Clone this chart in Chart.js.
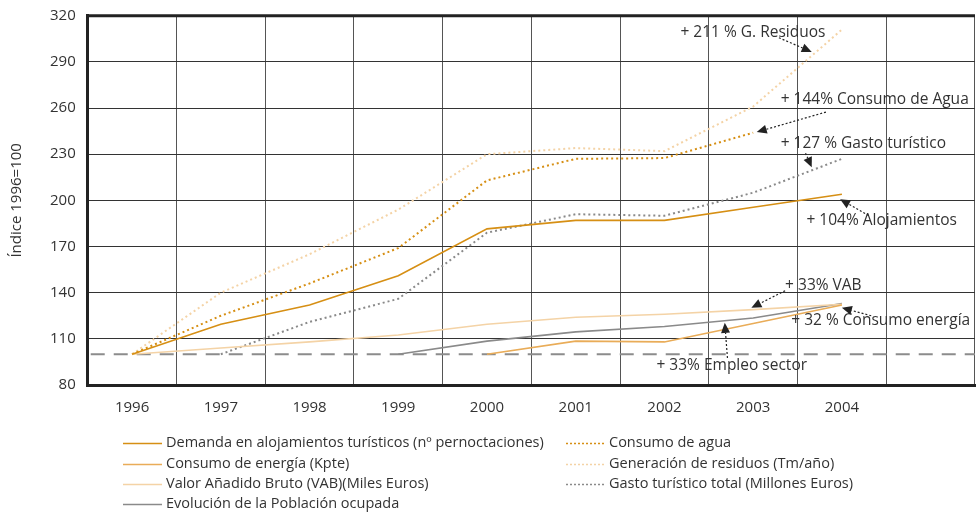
<!DOCTYPE html>
<html><head><meta charset="utf-8">
<script src="https://cdn.jsdelivr.net/npm/chart.js@4.4.1/dist/chart.umd.min.js"></script>
<style>html,body{margin:0;padding:0;background:#fff}#wrap{width:976px;height:513px}</style>
</head><body><div id="wrap"><canvas id="c" width="976" height="513"></canvas></div>
<script>
const years = ['1996','1997','1998','1999','2000','2001','2002','2003','2004',''];
const demandaAlojamientos = [100,119.5,132,151,181.5,187,187,195.5,204,null];
const consumoEnergia = [null,null,null,null,100,108.5,108,120,132,null];
const valorAnadidoBruto = [100,104,108,112.5,119.5,124,126,129,132.5,null];
const poblacionOcupada = [null,null,null,100,108.5,114.5,118,123.5,133,null];
const consumoAgua = [100,125,146,169,213,227,227.5,244,null,null];
const residuos = [100,140,165,194,230,234,232,261,311,null];
const gastoTuristico = [null,100,121,136,179,191,190,205,227,null];
const yTicks = [80,110,140,170,200,230,260,290,320];
const baseIndex = 100;
const annotationTexts = ['+ 211 % G. Residuos','+ 144% Consumo de Agua','+ 127 % Gasto turístico','+ 104% Alojamientos','+ 33% VAB','+ 32 % Consumo energía','+ 33% Empleo sector'];
// anchors in data coords: [textX, textY, fromX, fromY, tipX, tipY]
const annotationAnchors = [
  [6.18,309.0, 7.29,305.7, 7.66,296.5],
  [7.31,265.2, 7.82,257.4, 7.04,244.4],
  [7.31,237.2, 7.59,230.7, 7.66,221.5],
  [7.60,187.0, 8.30,190.2, 7.98,200.7],
  [7.36,144.6, 7.36,141.3, 6.98,130.2],
  [7.43,121.7, 8.33,125.0, 8.00,130.2],
  [5.91,92.4, 6.71,97.6, 6.68,120.4]
];

const FONT = '"Open Sans", "Noto Sans", sans-serif';
const DARK = '#D68F14', MID = '#E9AC58', LIGHT = '#F4D3A6', GREY = '#8A8A8A';

const datasets = [
  {label:'Demanda en alojamientos turísticos (nº pernoctaciones)', data:demandaAlojamientos, borderColor:DARK, borderWidth:1.6, col:0, row:0},
  {label:'Consumo de energía (Kpte)', data:consumoEnergia, borderColor:MID, borderWidth:1.6, col:0, row:1},
  {label:'Valor Añadido Bruto (VAB)(Miles Euros)', data:valorAnadidoBruto, borderColor:LIGHT, borderWidth:1.6, col:0, row:2},
  {label:'Evolución de la Población ocupada', data:poblacionOcupada, borderColor:GREY, borderWidth:1.6, col:0, row:3},
  {label:'Consumo de agua', data:consumoAgua, borderColor:DARK, borderWidth:2, borderDash:[2,3], col:1, row:0},
  {label:'Generación de residuos (Tm/año)', data:residuos, borderColor:LIGHT, borderWidth:2, borderDash:[2,3], col:1, row:1},
  {label:'Gasto turístico total (Millones Euros)', data:gastoTuristico, borderColor:GREY, borderWidth:2, borderDash:[2,3], col:1, row:2}
].map(d => Object.assign({pointRadius:0, tension:0, fill:false, spanGaps:false}, d));

const extras = {
  id:'extras',
  beforeDatasetsDraw(chart){
    const {ctx, chartArea:a, scales:{y}} = chart;
    const yy = y.getPixelForValue(baseIndex);
    ctx.save();
    ctx.strokeStyle = '#8C8C8C'; ctx.lineWidth = 2; ctx.setLineDash([14,9]);
    ctx.beginPath(); ctx.moveTo(a.left+3, yy); ctx.lineTo(a.right, yy); ctx.stroke();
    ctx.restore();
  },
  afterDraw(chart){
    const {ctx, chartArea:a, scales:{x,y}} = chart;
    ctx.save();
    ctx.strokeStyle = '#222'; ctx.lineWidth = 3;
    ctx.beginPath(); ctx.moveTo(a.left-1, a.top); ctx.lineTo(a.right, a.top); ctx.stroke();
    ctx.font = '15.5px ' + FONT; ctx.fillStyle = '#333'; ctx.textBaseline = 'middle'; ctx.textAlign = 'left';
    annotationAnchors.forEach((an, i) => {
      ctx.fillText(annotationTexts[i], x.getPixelForValue(an[0]), y.getPixelForValue(an[1]));
      const x1 = x.getPixelForValue(an[2]), y1 = y.getPixelForValue(an[3]);
      const x2 = x.getPixelForValue(an[4]), y2 = y.getPixelForValue(an[5]);
      const ang = Math.atan2(y2-y1, x2-x1), L = 10, W = 4.5;
      const bx = x2 - L*Math.cos(ang), by = y2 - L*Math.sin(ang);
      ctx.strokeStyle = '#222'; ctx.lineWidth = 1.2; ctx.setLineDash([2,2]);
      ctx.beginPath(); ctx.moveTo(x1,y1); ctx.lineTo(bx,by); ctx.stroke();
      ctx.setLineDash([]);
      ctx.fillStyle = '#222';
      ctx.beginPath(); ctx.moveTo(x2,y2);
      ctx.lineTo(bx + W*Math.sin(ang), by - W*Math.cos(ang));
      ctx.lineTo(bx - W*Math.sin(ang), by + W*Math.cos(ang));
      ctx.closePath(); ctx.fill();
      ctx.fillStyle = '#333';
    });
    const colX = [123, 566], rowY = [443, 464, 484, 504];
    ctx.font = '14.5px ' + FONT; ctx.textBaseline = 'middle';
    chart.data.datasets.forEach(ds => {
      const lx = colX[ds.col], ly = rowY[ds.row];
      ctx.strokeStyle = ds.borderColor; ctx.lineWidth = ds.borderDash ? 1.5 : 1.6;
      ctx.setLineDash(ds.borderDash ? [2,2] : []);
      ctx.beginPath(); ctx.moveTo(lx, ly+0.5); ctx.lineTo(lx+39, ly+0.5); ctx.stroke();
      ctx.setLineDash([]);
      ctx.fillStyle = '#333';
      ctx.fillText(ds.label, lx+43, ly);
    });
    ctx.restore();
  }
};

new Chart(document.getElementById('c'), {
  type:'line',
  data:{labels:years, datasets},
  options:{
    responsive:false, animation:false,
    layout:{padding:{left:8, right:1, top:0, bottom:82}},
    plugins:{legend:{display:false}, tooltip:{enabled:false}},
    scales:{
      x:{offset:true,
        grid:{offset:true, color:'#555', lineWidth:1, drawTicks:false},
        border:{color:'#222', width:3},
        ticks:{padding:14, color:'#333', font:{family:FONT, size:15}, autoSkip:false, maxRotation:0}},
      y:{min:80, max:320,
        afterBuildTicks(s){ s.ticks = yTicks.map(v => ({value:v})); },
        grid:{color:'#333', lineWidth:1, drawTicks:false},
        border:{color:'#222', width:3},
        ticks:{padding:12, color:'#333', font:{family:FONT, size:15, lineHeight:0.5}},
        title:{display:true, text:'Índice 1996=100', color:'#333', font:{family:FONT, size:15}, padding:{top:0,bottom:12}}}
    }
  },
  plugins:[extras]
});
</script></body></html>
